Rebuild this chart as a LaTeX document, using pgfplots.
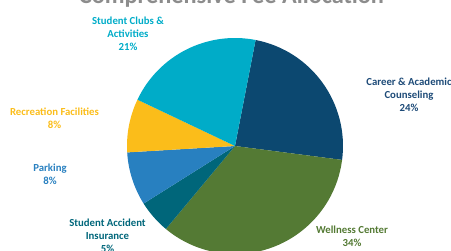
\documentclass[border=0pt]{standalone}
\usepackage{pgfplots}
\pgfplotsset{compat=1.18}
\usepackage{fontspec}
\setmainfont{Carlito}
\definecolor{career}{RGB}{12,72,112}
\definecolor{wellness}{RGB}{84,122,52}
\definecolor{accident}{RGB}{0,102,122}
\definecolor{parking}{RGB}{40,128,192}
\definecolor{recreation}{RGB}{251,189,26}
\definecolor{clubs}{RGB}{0,172,200}
\definecolor{careertxt}{RGB}{30,75,120}
\definecolor{titlegray}{RGB}{140,140,140}
% slice: #1 cumulative percent before, #2 percent, #3 colour
\newcommand\slice[3]{%
  \fill[#3] (axis cs:235,105) -- ++({79-3.6*#1}:108bp)
    arc[start angle={79-3.6*#1}, end angle={79-3.6*(#1+#2)}, radius=108bp] -- cycle;}
\begin{document}
\begin{tikzpicture}
\useasboundingbox (0,0) rectangle (451bp,251bp);
\clip (0,0) rectangle (451bp,251bp);
\begin{scope}[overlay]
\begin{axis}[
  at={(0,0)}, anchor=south west,
  x=1bp, y=1bp, scale only axis,
  xmin=0, xmax=451, ymin=0, ymax=251,
  hide axis, clip=true,
  nodes={font=\bfseries\fontsize{10.8}{12.8}\selectfont, align=center},
]
\slice{0}{24}{career}
\slice{24}{34}{wellness}
\slice{58}{5}{accident}
\slice{63}{8}{parking}
\slice{71}{8}{recreation}
\slice{79}{21}{clubs}
\node[text=titlegray, anchor=base, font=\bfseries\fontsize{24.4}{28}\selectfont] at (axis cs:231.5,247.5) {Comprehensive Fee Allocation};
\node[text=clubs] at (axis cs:128,217) {Student Clubs \&\\Activities\\21\%};
\node[text=careertxt] at (axis cs:409,156) {Career \& Academic\\Counseling\\24\%};
\node[text=recreation] at (axis cs:54.5,133) {Recreation Facilities\\8\%};
\node[text=parking] at (axis cs:50,77) {Parking\\8\%};
\node[text=accident] at (axis cs:107.5,15) {Student Accident\\Insurance\\5\%};
\node[text=wellness] at (axis cs:352,15) {Wellness Center\\34\%};
\end{axis}
\end{scope}
\end{tikzpicture}
\end{document}
